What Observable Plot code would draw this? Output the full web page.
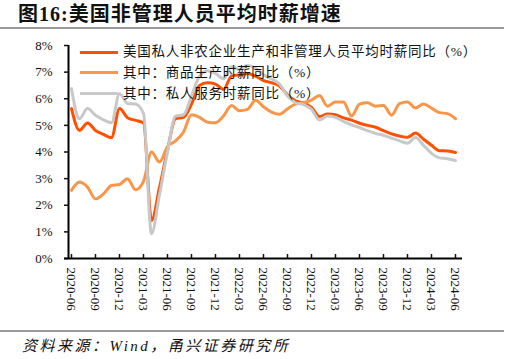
<!DOCTYPE html>
<html>
<head>
<meta charset="utf-8">
<script src="https://cdn.jsdelivr.net/npm/d3@7"></script>
<script src="https://cdn.jsdelivr.net/npm/@observablehq/plot@0.6"></script>
<style>
  body { margin:0; width:509px; height:359px; background:#fff; position:relative; overflow:hidden;
         font-family:"Liberation Serif","Noto Sans CJK SC",serif; }
  .abs { position:absolute; }
  .leg { position:absolute; left:80px; height:0; }
  .leg span.sw { position:absolute; left:0; top:-1.5px; width:38px; height:3px; }
  .leg span.tx { position:absolute; left:43px; top:-9px; font-size:13.5px; line-height:18px; letter-spacing:0.75px; white-space:nowrap; color:#111; }
</style>
</head>
<body>
<div class="abs" style="left:18px;top:3px;font-weight:bold;font-size:20px;line-height:22px;letter-spacing:1px;color:#111;">图16:美国非管理人员平均时薪增速</div>
<div class="abs" style="left:0;top:27px;width:504px;height:2px;background:#9a9a9a;"></div>
<div id="chart" class="abs" style="left:0;top:30px;"></div>
<div id="legend"></div>
<div class="abs" style="left:0;top:330px;width:504px;height:2px;background:#9a9a9a;"></div>
<div class="abs" style="left:22px;top:336px;font-style:italic;font-size:15px;line-height:20px;letter-spacing:2.5px;color:#111;">资料来源：Wind，甬兴证券研究所</div>
<script>
const months = ["2020-06","2020-07","2020-08","2020-09","2020-10","2020-11","2020-12",
  "2021-01","2021-02","2021-03","2021-04","2021-05","2021-06","2021-07","2021-08","2021-09","2021-10","2021-11","2021-12",
  "2022-01","2022-02","2022-03","2022-04","2022-05","2022-06","2022-07","2022-08","2022-09","2022-10","2022-11","2022-12",
  "2023-01","2023-02","2023-03","2023-04","2023-05","2023-06","2023-07","2023-08","2023-09","2023-10","2023-11","2023-12",
  "2024-01","2024-02","2024-03","2024-04","2024-05","2024-06"];
const totalYoY = [5.63,4.81,5.09,4.81,4.66,4.54,5.63,5.29,5.19,5.09,1.43,2.67,4.07,5.25,5.30,5.80,6.50,6.60,6.55,
  6.35,6.85,6.90,6.95,6.85,6.68,6.60,6.48,6.15,5.92,5.84,5.68,
  5.33,5.43,5.40,5.28,5.20,5.08,5.00,4.93,4.80,4.68,4.60,4.55,
  4.71,4.48,4.25,4.05,4.04,3.98];
const goodsYoY = [2.56,2.87,2.68,2.24,2.43,2.74,2.78,3.00,2.58,2.90,4.00,3.62,4.20,4.42,4.75,5.40,5.30,5.12,5.10,
  5.35,5.75,5.55,5.60,5.94,5.70,5.50,5.42,5.62,5.80,5.85,5.95,
  6.12,5.72,5.88,5.88,5.35,5.80,5.85,5.72,5.75,5.38,5.82,5.88,
  5.65,5.80,5.65,5.48,5.44,5.25];
const servicesYoY = [6.38,5.25,5.63,5.38,5.21,5.10,6.19,5.82,5.80,5.45,0.93,2.40,4.00,5.35,5.40,6.10,6.85,7.05,6.95,
  6.75,7.20,7.10,7.25,7.15,6.90,6.75,6.55,6.10,5.85,5.78,5.60,
  5.20,5.35,5.30,5.15,5.02,4.92,4.80,4.70,4.63,4.52,4.42,4.33,
  4.54,4.25,3.95,3.78,3.75,3.68];
const seriesNames = ["美国私人非农企业生产和非管理人员平均时薪同比（%）","其中：商品生产时薪同比（%）","其中：私人服务时薪同比（%）"];
const seriesColors = ["#FF5000","#F9964A","#C8C8C8"];
const yTicks = [0,1,2,3,4,5,6,7,8];
const xTicks = ["2020-06","2020-09","2020-12","2021-03","2021-06","2021-09","2021-12","2022-03","2022-06","2022-09","2022-12","2023-03","2023-06","2023-09","2023-12","2024-03","2024-06"];

const seriesValues = [totalYoY, goodsYoY, servicesYoY];
const rows = [];
seriesValues.forEach((vals, s) => vals.forEach((v, i) => rows.push({month: months[i], value: v, series: seriesNames[s]})));

const chart = Plot.plot({
  width: 509, height: 298,
  marginTop: 15, marginLeft: 64, marginRight: 47, marginBottom: 70,
  insetLeft: 3, insetRight: 3,
  style: {fontFamily: "Liberation Serif, serif", fontSize: "13px", color: "#111", background: "transparent", overflow: "visible"},
  x: {type: "point", domain: months},
  y: {domain: [0, 8]},
  marks: [
    Plot.axisY({ticks: yTicks, tickFormat: d => d + "%", tickSize: 0, tickPadding: 12, label: null}),
    Plot.axisY({ticks: yTicks, tickFormat: () => "", tickSize: 4, dx: 4, strokeWidth: 1.5, label: null}),
    Plot.axisX({ticks: xTicks, tickSize: 0, tickRotate: 90, tickPadding: 9, label: null}),
    Plot.axisX({ticks: xTicks, tickFormat: () => "", tickSize: 4, dy: -4, strokeWidth: 1.5, label: null}),
    ...seriesNames.map((name, s) => Plot.line(rows.filter(r => r.series === name), {
      x: "month", y: "value", stroke: seriesColors[s], strokeWidth: 3, curve: "monotone-x"
    })),
    Plot.ruleY([0], {stroke: "#000", strokeWidth: 2}),
    Plot.ruleX([months[0]], {dx: -3, stroke: "#000", strokeWidth: 2})
  ]
});
document.getElementById("chart").appendChild(chart);

const legend = document.getElementById("legend");
const legendY = [52, 72.5, 93.5];
seriesNames.forEach((name, s) => {
  const d = document.createElement("div");
  d.className = "leg";
  d.style.top = legendY[s] + "px";
  d.innerHTML = `<span class="sw" style="background:${seriesColors[s]}"></span><span class="tx">${name}</span>`;
  legend.appendChild(d);
});
</script>
</body>
</html>
